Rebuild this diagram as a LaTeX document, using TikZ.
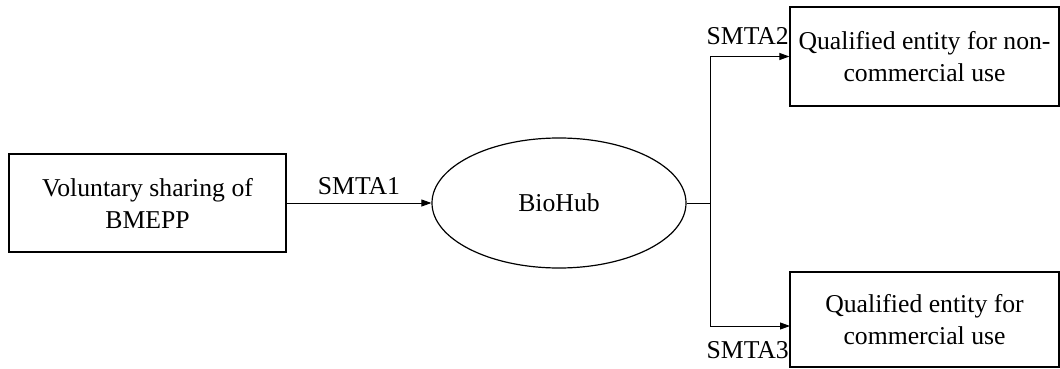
\documentclass[tikz,border=0pt]{standalone}
\usepackage{fontspec}
\setmainfont{Liberation Serif}
\usetikzlibrary{arrows.meta,shapes.geometric}
\begin{document}
\begin{tikzpicture}[x=1pt,y=-1pt,
  every node/.style={font=\fontsize{25.7}{32}\selectfont},
  boxnode/.style={draw,line width=1.2pt,rectangle,align=center,inner sep=0pt},
  lbl/.style={inner sep=0pt},
  arr/.style={line width=0.9pt,-{Triangle[length=10pt,width=7pt]}},
  ln/.style={line width=0.9pt}]
\useasboundingbox (0,0) rectangle (1060,369);
\node[boxnode,minimum width=277pt,minimum height=98pt] (src) at (147.5,203) {Voluntary sharing of\\BMEPP};
\node[draw,ellipse,line width=1.2pt,minimum width=254pt,minimum height=130pt,inner sep=0pt] (hub) at (559,203) {BioHub};
\node[boxnode,minimum width=269pt,minimum height=99pt] (nc) at (924.5,56.5) {Qualified entity for non-\\commercial use};
\node[boxnode,minimum width=269pt,minimum height=95pt] (cm) at (924.5,319.5) {Qualified entity for\\commercial use};
\coordinate (j) at (710,203);
\coordinate (ncin) at (nc.west);
\coordinate (cmin) at (790,326);
\draw[arr] (src.east) -- node[lbl,above=8pt] (l1) {SMTA1} (hub.west);
\draw[ln] (hub.east) -- (j);
\draw[arr] (j) |- (ncin);
\draw[arr] (j) |- (cmin);
\node[lbl,anchor=south east] (l2) at (789,45) {SMTA2};
\node[lbl,anchor=north east] (l3) at (789,341) {SMTA3};
\end{tikzpicture}
\end{document}
